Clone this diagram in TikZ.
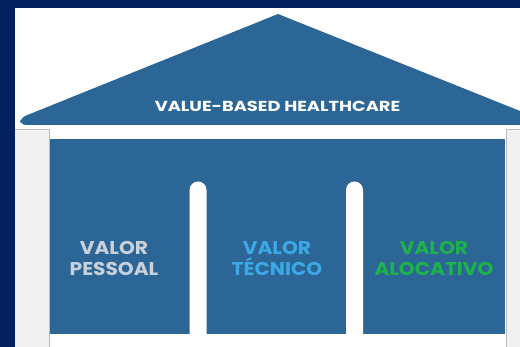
\documentclass[tikz,border=0pt]{standalone}
\usepackage{fontspec}
\newfontfamily\popfont{Poppins}[BoldFont={* Bold}]
\definecolor{navy}{HTML}{04205F}
\definecolor{housblue}{HTML}{2C6696}
\definecolor{panelgray}{HTML}{F1F1F1}
\definecolor{panelline}{HTML}{BDBDBD}
\definecolor{txtgray}{HTML}{C9D1DB}
\definecolor{txtblue}{HTML}{3BA9E6}
\definecolor{txtgreen}{HTML}{1DB34B}
\newcommand{\wideline}[1]{\scalebox{1.09}[1]{#1}}
\tikzset{
  pillarlabel/.style={font=\popfont\bfseries\fontsize{18.5}{20.5}\selectfont, align=center, inner sep=0pt},
  titlelabel/.style={font=\popfont\bfseries\fontsize{14.5}{16}\selectfont, text=white, inner sep=0pt},
  pillar/.style={fill=white, rounded corners=8.5pt},
}
\begin{document}
\begin{tikzpicture}[x=1pt,y=-1pt]
\useasboundingbox (0,0) rectangle (520,347);
\begin{scope}
\clip (0,0) rectangle (520,347);
% frame
\fill[navy] (0,0) rectangle (520,347);
\fill[white] (15,8) rectangle (520,347);
% roof
\fill[housblue] (278,14) [rounded corners=6pt] -- (20,118) -- (20,125) [sharp corners] -- (545,125) -- (545,121) -- cycle;
% side panels
\fill[panelgray] (15,129) rectangle (49,347);
\draw[panelline, line width=0.8pt] (15,129.4) -- (49,129.4) -- (49,347);
\fill[panelgray] (506,129) rectangle (525,347);
\draw[panelline, line width=0.8pt] (506,347) -- (506,129.4) -- (525,129.4);
% body
\fill[housblue] (49.5,139) rectangle (505,334);
% pillars
\fill[pillar] (189.5,345) -- (189.5,181.5) -- (206.5,181.5) -- (206.5,345) -- cycle;
\fill[pillar] (346,345) -- (346,181.5) -- (363,181.5) -- (363,345) -- cycle;
\end{scope}
% texts
\node[titlelabel] (title) at (277.5,106.5) {\scalebox{1.23}[1]{VALUE-BASED HEALTHCARE}};
\node[pillarlabel, text=txtgray] (pessoal) at (114,258.5) {\wideline{VALOR}\\\wideline{PESSOAL}};
\node[pillarlabel, text=txtblue] (tecnico) at (277,258.5) {\wideline{VALOR}\\\wideline{TÉCNICO}};
\node[pillarlabel, text=txtgreen] (alocativo) at (434,258.5) {\wideline{VALOR}\\\wideline{ALOCATIVO}};
\end{tikzpicture}
\end{document}
